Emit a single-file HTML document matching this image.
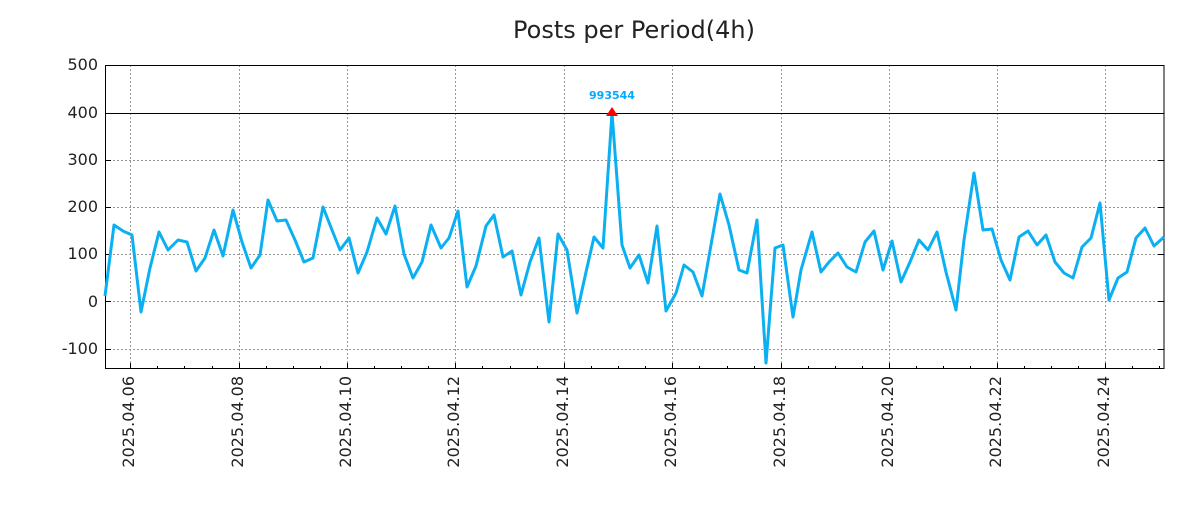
<!DOCTYPE html>
<html><head><meta charset="utf-8"><style>
html,body{margin:0;padding:0;background:#fff;}
svg text{font-family:"DejaVu Sans","Liberation Sans",sans-serif;}
</style></head><body>
<svg width="1200" height="500" viewBox="0 0 1200 500" xmlns="http://www.w3.org/2000/svg">
<rect width="1200" height="500" fill="#fff"/>
<text x="634" y="38" font-size="24" text-anchor="middle" fill="#222">Posts per Period(4h)</text>
<g stroke="#999" stroke-width="1" stroke-dasharray="2,2">
<line x1="105" x2="1164" y1="160.5" y2="160.5"/>
<line x1="105" x2="1164" y1="207.5" y2="207.5"/>
<line x1="105" x2="1164" y1="254.5" y2="254.5"/>
<line x1="105" x2="1164" y1="301.5" y2="301.5"/>
<line x1="105" x2="1164" y1="349.5" y2="349.5"/>
<line y1="65" y2="369" x1="130.5" x2="130.5"/>
<line y1="65" y2="369" x1="239.5" x2="239.5"/>
<line y1="65" y2="369" x1="347.5" x2="347.5"/>
<line y1="65" y2="369" x1="455.5" x2="455.5"/>
<line y1="65" y2="369" x1="564.5" x2="564.5"/>
<line y1="65" y2="369" x1="672.5" x2="672.5"/>
<line y1="65" y2="369" x1="781.5" x2="781.5"/>
<line y1="65" y2="369" x1="889.5" x2="889.5"/>
<line y1="65" y2="369" x1="997.5" x2="997.5"/>
<line y1="65" y2="369" x1="1105.5" x2="1105.5"/>
</g>
<line x1="105" x2="1164" y1="113.5" y2="113.5" stroke="#000" stroke-width="1"/>
<rect x="105.5" y="65.5" width="1058.5" height="303" fill="none" stroke="#000" stroke-width="1"/>
<g stroke="#000" stroke-width="1">
<path d="M105 65.5h6M105 113.5h6M105 160.5h6M105 207.5h6M105 254.5h6M105 301.5h6M105 349.5h6M1164 65.5h-6M1164 113.5h-6M1164 160.5h-6M1164 207.5h-6M1164 254.5h-6M1164 301.5h-6M1164 349.5h-6"/>
<path d="M130.5 369v-6M239.5 369v-6M347.5 369v-6M455.5 369v-6M564.5 369v-6M672.5 369v-6M781.5 369v-6M889.5 369v-6M997.5 369v-6M1105.5 369v-6"/>
<path d="M157.5 369v-3M184.5 369v-3M212.5 369v-3M266.5 369v-3M293.5 369v-3M320.5 369v-3M374.5 369v-3M401.5 369v-3M428.5 369v-3M482.5 369v-3M510.5 369v-3M537.5 369v-3M591.5 369v-3M618.5 369v-3M645.5 369v-3M699.5 369v-3M727.5 369v-3M754.5 369v-3M808.5 369v-3M835.5 369v-3M862.5 369v-3M916.5 369v-3M943.5 369v-3M970.5 369v-3M1024.5 369v-3M1051.5 369v-3M1078.5 369v-3M1132.5 369v-3M1159.5 369v-3"/>
</g>
<g font-size="16" fill="#222" text-anchor="end">
<text x="98" y="70">500</text>
<text x="98" y="118">400</text>
<text x="98" y="165">300</text>
<text x="98" y="212">200</text>
<text x="98" y="259">100</text>
<text x="98" y="307">0</text>
<text x="98" y="354">-100</text>
</g>
<g font-size="16" fill="#222" text-anchor="end">
<text transform="translate(134,376) rotate(-90)">2025.04.06</text>
<text transform="translate(243,376) rotate(-90)">2025.04.08</text>
<text transform="translate(351,376) rotate(-90)">2025.04.10</text>
<text transform="translate(459,376) rotate(-90)">2025.04.12</text>
<text transform="translate(568,376) rotate(-90)">2025.04.14</text>
<text transform="translate(676,376) rotate(-90)">2025.04.16</text>
<text transform="translate(785,376) rotate(-90)">2025.04.18</text>
<text transform="translate(893,376) rotate(-90)">2025.04.20</text>
<text transform="translate(1001,376) rotate(-90)">2025.04.22</text>
<text transform="translate(1109,376) rotate(-90)">2025.04.24</text>
</g>
<polyline fill="none" stroke="#0bb0f2" stroke-width="3" stroke-linejoin="round" points="105,296 114,225 123,231 132,235 141,312 150,268 159,232 168,250 178,240 187,242 196,271 205,258 214,230 223,256 233,210 242,242 251,268 260,255 268,200 277,221 286,220 295,240 304,262 313,258 323,207 332,230 340,250 349,238 358,273 367,252 377,218 386,234 395,206 404,254 413,278 422,262 431,225 441,248 449,238 458,211 467,287 476,266 486,226 494,215 503,257 512,251 521,295 530,262 539,238 549,322 558,234 567,250 577,313 586,272 594,237 603,248 612,113 622,245 630,268 639,255 648,283 657,226 666,311 676,293 684,265 693,272 702,296 711,245 720,194 729,225 739,270 747,273 757,220 766,363 775,248 783,245 793,317 801,270 812,232 821,272 829,262 838,253 847,267 856,272 865,242 874,231 883,270 892,241 901,282 910,262 919,240 928,250 937,232 946,272 956,310 964,240 974,173 983,230 992,229 1001,260 1010,280 1019,237 1028,231 1037,245 1046,235 1055,262 1064,273 1073,278 1082,247 1091,238 1100,203 1109,300 1118,278 1127,272 1136,238 1145,228 1154,246 1164,237"/>
<polygon points="612,107 606,116 618,116" fill="#f00"/>
<text x="612" y="99" font-size="11" font-weight="bold" fill="#00aaff" text-anchor="middle">993544</text>
</svg>
</body></html>
